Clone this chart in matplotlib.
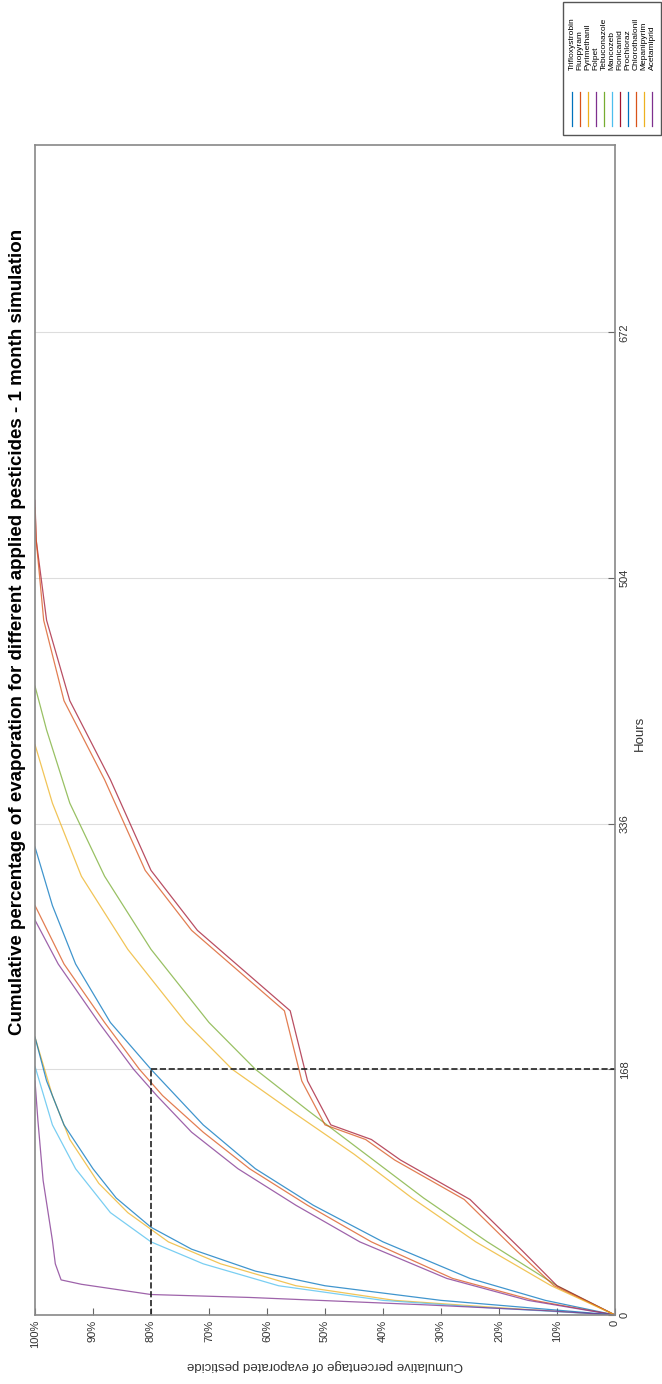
import numpy as np
import matplotlib.pyplot as plt

# pesticide names (legend order) and MATLAB default colours
names = ['Trifloxystrobin', 'Fluopyram', 'Pyrimethanil', 'Folpet', 'Tebuconazole',
         'Mancozeb', 'Flonicamid', 'Prochloraz', 'Chlorothalonil', 'Mepanipyrim',
         'Acetamiprid']
colors = ['#0072BD', '#D95319', '#EDB120', '#7E2F8E', '#77AC30', '#4DBEEE',
          '#A2142F', '#0072BD', '#D95319', '#EDB120', '#7E2F8E']

# hours / cumulative evaporated percentage
trifloxystrobin_h = [0, 10, 25, 50, 75, 100, 130, 168, 200, 240, 280, 320]
trifloxystrobin_p = [0, 12, 25, 40, 52, 62, 71, 80, 87, 93, 97, 100]
fluopyram_h = [0, 10, 25, 50, 75, 100, 125, 150, 168, 200, 240, 280]
fluopyram_p = [0, 14, 28, 42, 53, 63, 71, 78, 82, 88, 95, 100]
pyrimethanil_h = [0, 5, 10, 20, 35, 50, 70, 90, 120, 150, 190]
pyrimethanil_p = [0, 20, 38, 55, 68, 77, 84, 89, 94, 97, 100]
folpet_h = [0, 10, 25, 50, 75, 100, 125, 150, 168, 200, 240, 270]
folpet_p = [0, 15, 29, 44, 55, 65, 73, 79, 83, 89, 96, 100]
tebuconazole_h = [0, 20, 50, 80, 110, 140, 168, 200, 250, 300, 350, 400, 430]
tebuconazole_p = [0, 10, 22, 33, 43, 53, 62, 70, 80, 88, 94, 98, 100]
mancozeb_h = [0, 5, 10, 20, 35, 50, 70, 100, 130, 170]
mancozeb_p = [0, 22, 40, 58, 71, 80, 87, 93, 97, 100]
flonicamid_h = [0, 20, 44, 79, 106, 120, 130, 160, 208, 263, 304, 366, 420, 475, 530, 557]
flonicamid_p = [0, 10, 16, 25, 37, 42, 49, 53, 56, 72, 80, 87, 94, 98, 99.8, 100]
prochloraz_h = [0, 5, 10, 20, 30, 45, 60, 80, 100, 130, 160, 190]
prochloraz_p = [0, 15, 30, 50, 62, 73, 80, 86, 90, 95, 98, 100]
chlorothalonil_h = [0, 20, 44, 79, 106, 120, 130, 160, 208, 263, 304, 366, 420, 475, 530, 552]
chlorothalonil_p = [0, 10.5, 17, 26, 38, 43, 50, 54, 57, 73, 81, 88, 95, 98.5, 99.8, 100]
mepanipyrim_h = [0, 20, 50, 80, 110, 140, 168, 200, 250, 300, 350, 390]
mepanipyrim_p = [0, 11, 24, 35, 45, 56, 66, 74, 84, 92, 97, 100]
acetamiprid_h = [0, 3, 7, 12, 14, 21, 24, 35, 51, 92, 133, 160]
acetamiprid_p = [0, 12, 33, 63, 80, 92, 95.5, 96.5, 97, 98.6, 99.5, 100]

series_h = [trifloxystrobin_h, fluopyram_h, pyrimethanil_h, folpet_h, tebuconazole_h,
            mancozeb_h, flonicamid_h, prochloraz_h, chlorothalonil_h, mepanipyrim_h,
            acetamiprid_h]
series_p = [trifloxystrobin_p, fluopyram_p, pyrimethanil_p, folpet_p, tebuconazole_p,
            mancozeb_p, flonicamid_p, prochloraz_p, chlorothalonil_p, mepanipyrim_p,
            acetamiprid_p]

hour_ticks = [0, 168, 336, 504, 672]
pct_ticks = [0, 10, 20, 30, 40, 50, 60, 70, 80, 90, 100]
pct_labels = ['0'] + [f'{v}%' for v in pct_ticks[1:]]

plt.rcParams['font.family'] = ['Liberation Sans', 'DejaVu Sans']

fig = plt.figure(figsize=(6.62, 13.84), dpi=100)
ax = fig.add_axes([35 / 662, 69 / 1384, 580 / 662, 1170 / 1384])

# figure is drawn rotated 90 degrees: hours run upward, percentage runs to the left
for name, c, h, p in zip(names, colors, series_h, series_p):
    ax.plot(p, h, color=c, lw=0.9, alpha=0.75, label=name)

ax.plot([80, 80], [0, 168], '--', color='#222222', lw=1.2)
ax.plot([80, 0], [168, 168], '--', color='#222222', lw=1.2)

ax.set_xlim(100, 0)
ax.set_ylim(0, 800)
ax.yaxis.tick_right()
ax.set_yticks(hour_ticks)
ax.set_yticklabels([str(v) for v in hour_ticks], rotation=90, va='center', fontsize=8, color='#333333')
ax.set_xticks(pct_ticks)
ax.set_xticklabels(pct_labels, rotation=90, ha='center', va='top', fontsize=8, color='#333333')
ax.tick_params(direction='in', length=5, color='#666666')
ax.grid(axis='y', color='#dddddd', lw=0.8)
for s in ax.spines.values():
    s.set_color('#888888')
    s.set_linewidth(1.2)

fig.text(18 / 662, 1 - 632 / 1384,
         'Cumulative percentage of evaporation for different applied pesticides - 1 month simulation',
         rotation=90, ha='center', va='center', fontsize=13.5, fontweight='bold')
fig.text(325 / 662, 1 - 1365 / 1384, 'Cumulative percentage of evaporated pesticide',
         rotation=180, ha='center', va='center', fontsize=9.5, color='#333333')
fig.text(640 / 662, 1 - 733 / 1384, 'Hours', rotation=90, ha='center', va='center',
         fontsize=9.5, color='#333333')

# legend: vertical entries along the top-right
box = plt.Rectangle((563 / 662, 1 - 135 / 1384), 98 / 662, 133 / 1384,
                    transform=fig.transFigure, fill=False, ec='#555555', lw=1.0)
fig.add_artist(box)
for i, (name, c) in enumerate(zip(names, colors)):
    x = (572 + i * 8.0) / 662
    fig.add_artist(plt.Line2D([x, x], [1 - 126 / 1384, 1 - 92 / 1384],
                              transform=fig.transFigure, color=c, lw=0.9))
    fig.text(x, 1 - 70 / 1384, name, rotation=90, ha='center', va='bottom', fontsize=6)

fig.savefig('out.png', dpi=100)
